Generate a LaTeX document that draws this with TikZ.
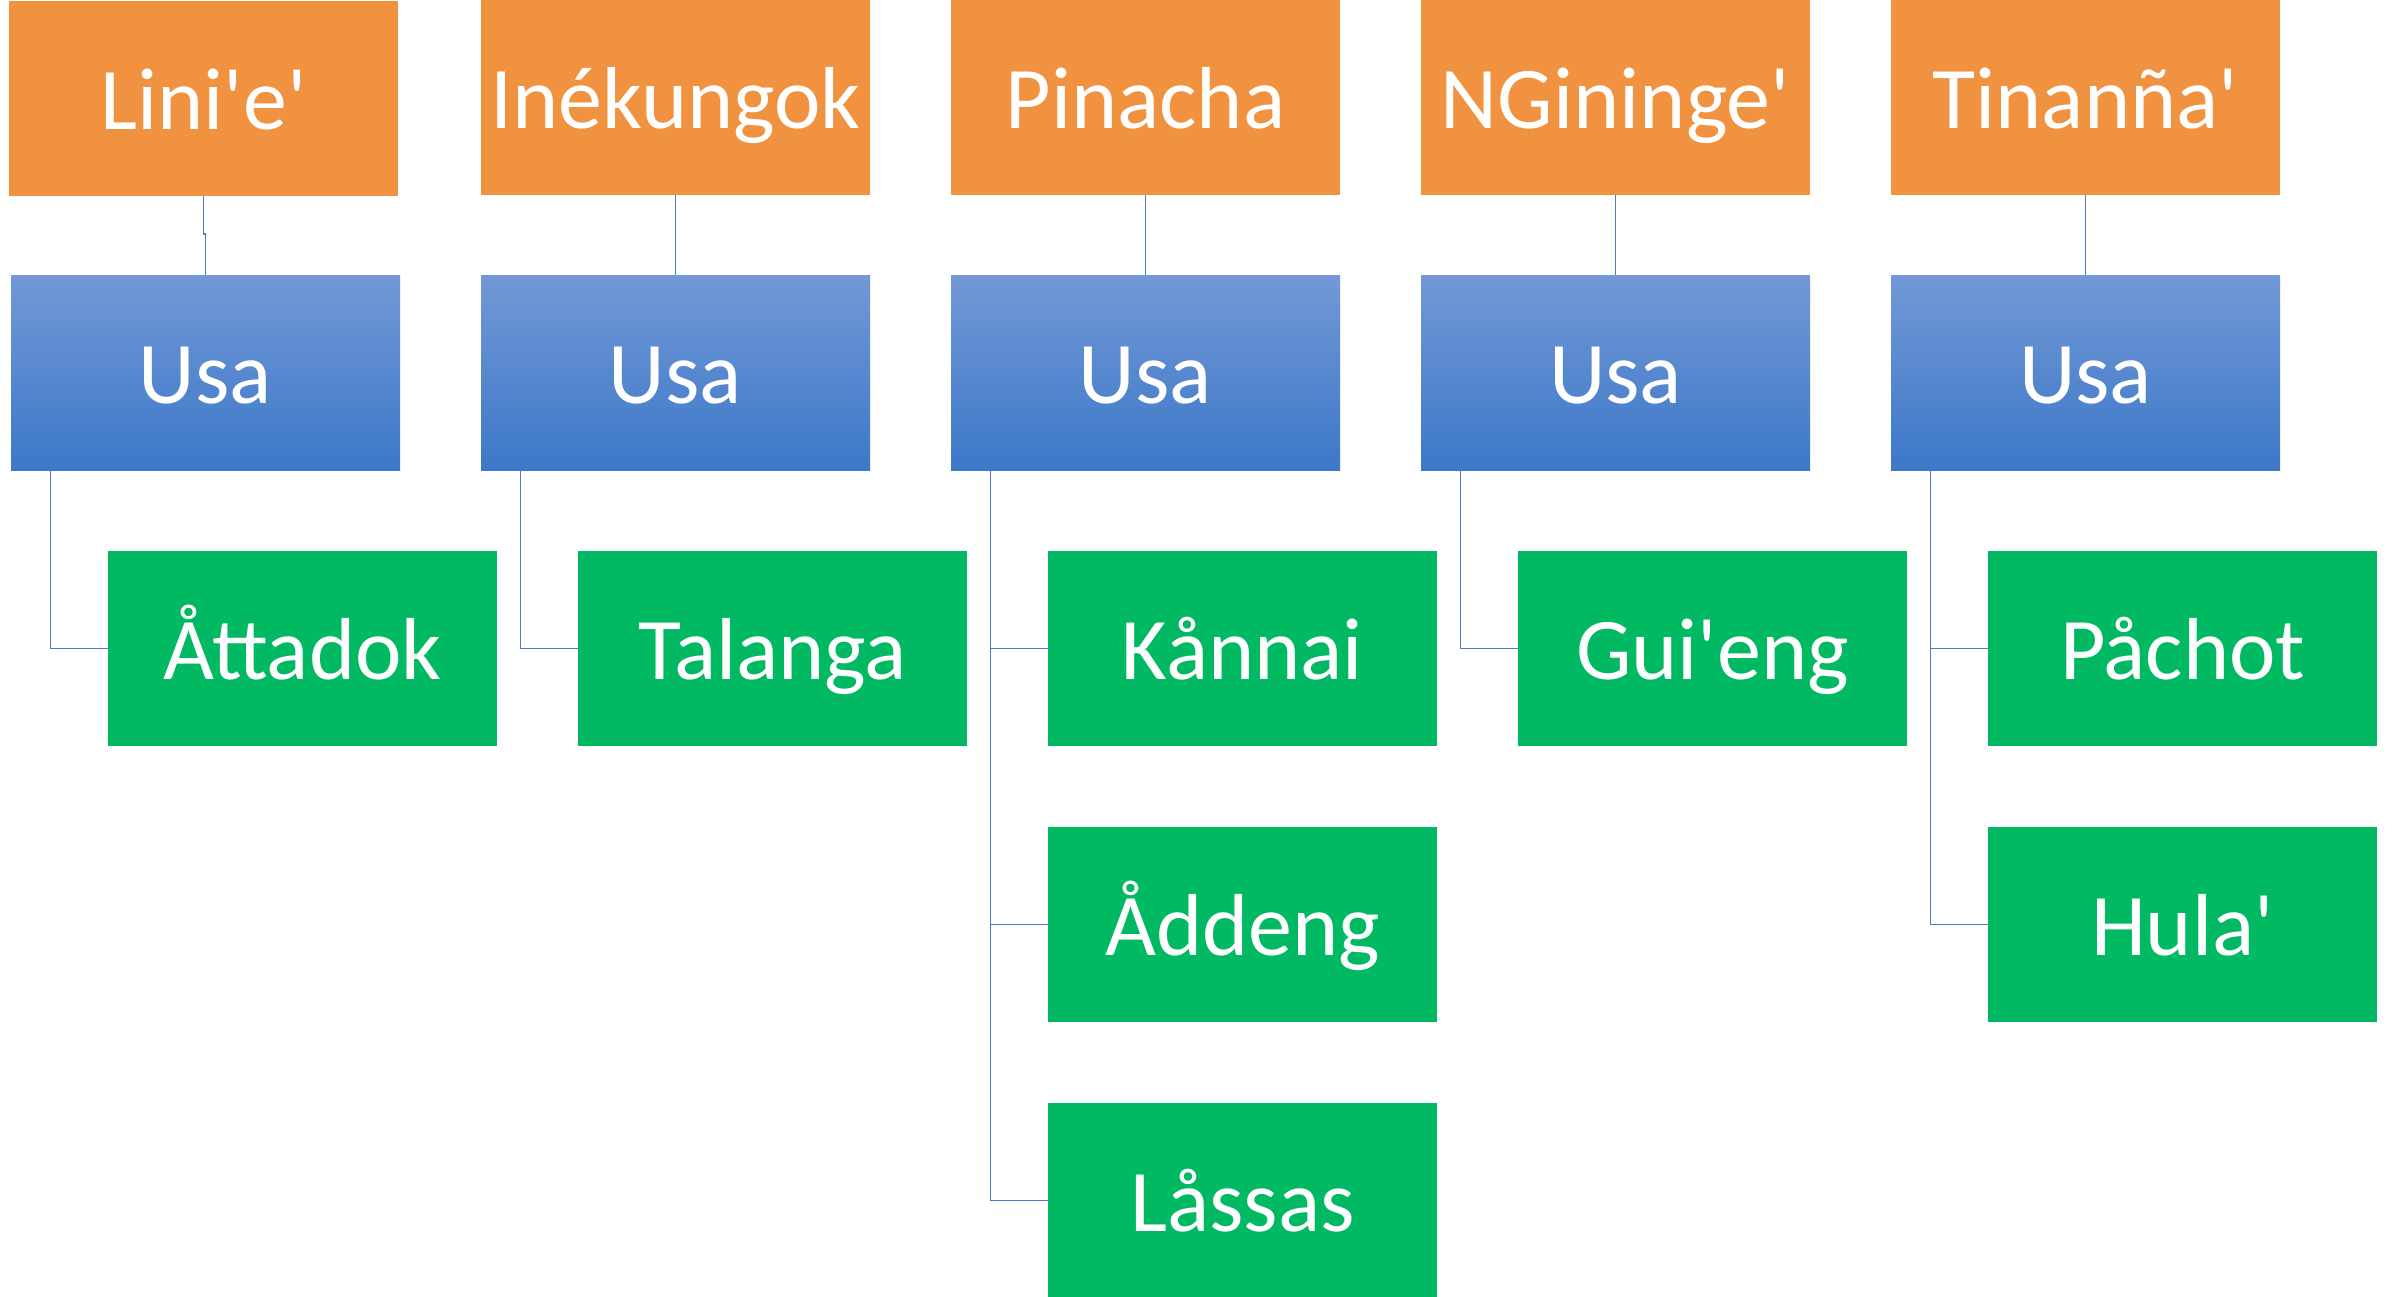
\documentclass[tikz,border=0pt]{standalone}
\usepackage{fontspec}
\setmainfont{Carlito}
\newcommand{\ap}{\textquotesingle}
\definecolor{org}{RGB}{241,146,64}
\definecolor{btop}{RGB}{114,152,214}
\definecolor{bbot}{RGB}{60,120,200}
\definecolor{grn}{RGB}{0,185,98}
\definecolor{lnk}{RGB}{80,120,196}
\tikzset{
  box/.style={rectangle, inner sep=0pt, outer sep=0pt, minimum width=389pt, minimum height=195pt,
    text=white, font=\fontsize{88}{100}\selectfont, text height=61pt, text depth=0pt},
  topbox/.style={box, fill=org},
  midbox/.style={box, top color=btop, bottom color=bbot},
  leafbox/.style={box, fill=grn},
  link/.style={draw=lnk, line width=1.3pt}
}
\begin{document}
\begin{tikzpicture}[x=1pt,y=-1pt]
\fill[white] (0,0) rectangle (2395,1296);
\useasboundingbox (0,0) rectangle (2395,1296);
% top row
\node[topbox] (o1) at (203.5,98.5) {Lini\ap e\ap};
\node[topbox] (o2) at (675.5,97.5) {Inékungok};
\node[topbox] (o3) at (1145.5,97.5) {Pinacha};
\node[topbox] (o4) at (1615.5,97.5) {NGininge\ap};
\node[topbox] (o5) at (2085.5,97.5) {Tinanña\ap};
% middle row
\node[midbox] (u1) at (205.5,372.5) {Usa};
\node[midbox] (u2) at (675.5,372.5) {Usa};
\node[midbox] (u3) at (1145.5,372.5) {Usa};
\node[midbox] (u4) at (1615.5,372.5) {Usa};
\node[midbox] (u5) at (2085.5,372.5) {Usa};
% leaves
\node[leafbox] (g11) at (302.5,648.5) {Åttadok};
\node[leafbox] (g21) at (772.5,648.5) {Talanga};
\node[leafbox] (g31) at (1242.5,648.5) {Kånnai};
\node[leafbox] (g32) at (1242.5,924.5) {Åddeng};
\node[leafbox] (g33) at (1242.5,1200.5) {Låssas};
\node[leafbox] (g41) at (1712.5,648.5) {Gui\ap eng};
\node[leafbox] (g51) at (2182.5,648.5) {Påchot};
\node[leafbox] (g52) at (2182.5,924.5) {Hula\ap};
% connectors top -> middle
\draw[link] (o1.south) -- ++(0,38) -| (u1.north);
\draw[link] (o2.south) -- (u2.north);
\draw[link] (o3.south) -- (u3.north);
\draw[link] (o4.south) -- (u4.north);
\draw[link] (o5.south) -- (u5.north);
% connectors middle -> leaves
\draw[link] ([xshift=39.5pt]u1.south west) |- (g11.west);
\draw[link] ([xshift=39.5pt]u2.south west) |- (g21.west);
\draw[link] ([xshift=39.5pt]u3.south west) |- (g31.west);
\draw[link] ([xshift=39.5pt]u3.south west) |- (g32.west);
\draw[link] ([xshift=39.5pt]u3.south west) |- (g33.west);
\draw[link] ([xshift=39.5pt]u4.south west) |- (g41.west);
\draw[link] ([xshift=39.5pt]u5.south west) |- (g51.west);
\draw[link] ([xshift=39.5pt]u5.south west) |- (g52.west);
\end{tikzpicture}
\end{document}
